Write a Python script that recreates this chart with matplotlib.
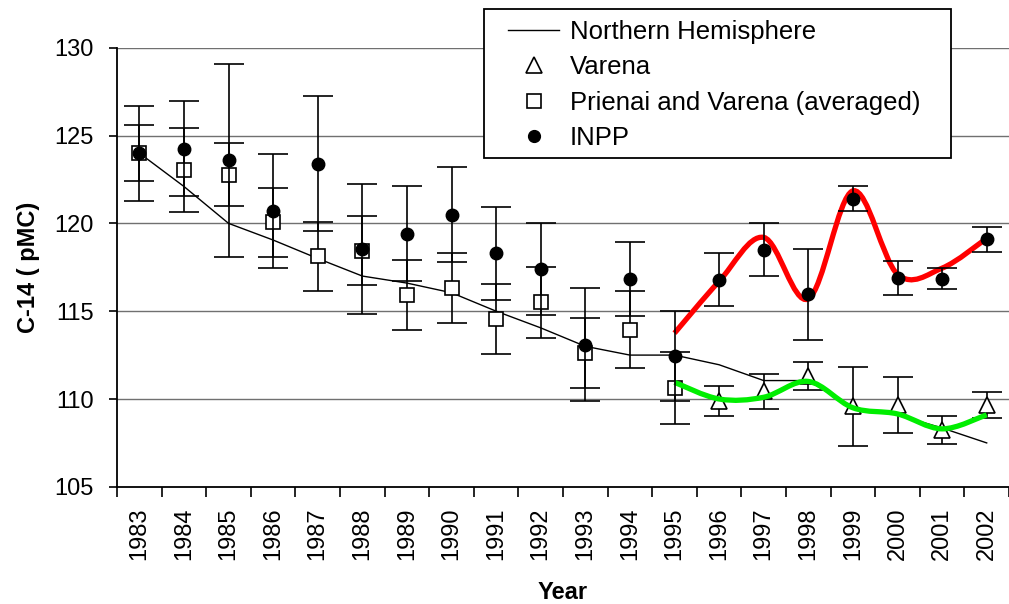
import matplotlib
matplotlib.use("Agg")
import matplotlib.pyplot as plt
import numpy as np
from matplotlib.path import Path
from matplotlib.patches import PathPatch, Rectangle
from matplotlib.lines import Line2D

plt.rcParams["font.family"] = ["Liberation Sans", "DejaVu Sans"]

years = [str(y) for y in range(1983, 2003)]

# Northern Hemisphere reference curve (1983-2002)
nh = [124.0, 122.1, 120.0, 119.05, 118.0, 117.0, 116.6, 116.05, 115.0, 114.05,
      113.0, 112.5, 112.5, 111.95, 111.05, 111.05, 109.5, 109.1, 108.35, 107.5]

# Prienai and Varena averaged (1983-1995)
avg = [124.0, 123.05, 122.77, 120.05, 118.12, 118.45, 115.93, 116.3, 114.57,
       115.5, 112.6, 113.94, 110.65]
avg_err = [1.6, 2.4, 1.8, 1.95, 1.95, 1.95, 2.0, 2.0, 2.0, 2.0, 2.0, 2.2, 2.05]

# INPP (1983-2002)
inpp = [124.0, 124.25, 123.6, 120.7, 123.4, 118.55, 119.4, 120.5, 118.3, 117.4,
        113.1, 116.85, 112.45, 116.8, 118.5, 115.95, 121.4, 116.9, 116.85, 119.1]
inpp_err = [2.7, 2.7, 5.5, 3.25, 3.85, 3.7, 2.7, 2.7, 2.65, 2.6,
            3.2, 2.1, 2.55, 1.5, 1.5, 2.6, 0.72, 0.97, 0.6, 0.71]

# Varena (1996-2002)
varena = [109.9, 110.45, 111.3, 109.6, 109.65, 108.25, 109.65]
varena_err = [0.85, 1.0, 0.8, 2.25, 1.6, 0.8, 0.76]

# smoothed trend curves (1995-2002)
red_trend = [113.75, 116.7, 119.2, 115.7, 121.85, 117.1, 117.45, 119.15]
green_trend = [110.95, 110.0, 110.1, 111.0, 109.5, 109.15, 108.3, 109.1]


def smooth_path(xs, ys):
    # Excel-like smoothed line: cubic bezier with catmull-rom tangents
    pts = np.column_stack([xs, ys]).astype(float)
    verts = [pts[0]]
    codes = [Path.MOVETO]
    n = len(pts)
    for i in range(n - 1):
        p0 = pts[max(i - 1, 0)]
        p1 = pts[i]
        p2 = pts[i + 1]
        p3 = pts[min(i + 2, n - 1)]
        c1 = p1 + (p2 - p0) / 6.0
        c2 = p2 - (p3 - p1) / 6.0
        verts += [c1, c2, p2]
        codes += [Path.CURVE4] * 3
    return Path(verts, codes)


W, H = 1009, 604
fig = plt.figure(figsize=(W / 100, H / 100), dpi=100)
ax = fig.add_axes([0.116, 0.194, 0.884, 0.727])

x_all = np.arange(len(years))
x_avg = x_all[:len(avg)]
x_var = x_all[13:]
x_trend = x_all[12:]

ax.set_xlim(-0.5, len(years) - 0.5)
ax.set_ylim(105, 130)

for v in range(110, 131, 5):
    ax.axhline(v, color="#707070", lw=1.0, zorder=0)

ax.plot(x_all, nh, color="black", lw=1.0, zorder=2)

eb = dict(ecolor="black", elinewidth=1.2, capsize=11, capthick=1.2, ls="none")
ax.errorbar(x_avg, avg, yerr=avg_err, fmt="s", mfc="white", mec="black",
            mew=1.2, ms=10.5, zorder=3, **eb)
ax.errorbar(x_var, varena, yerr=varena_err, fmt="^", mfc="white", mec="black",
            mew=1.2, ms=11, zorder=3, **eb)

ax.add_patch(PathPatch(smooth_path(x_trend, green_trend), fill=False,
                       edgecolor="#00ee00", lw=3.8, capstyle="butt", zorder=4))
ax.add_patch(PathPatch(smooth_path(x_trend, red_trend), fill=False,
                       edgecolor="#ff0000", lw=3.8, capstyle="butt", zorder=4))

ax.errorbar(x_all, inpp, yerr=inpp_err, fmt="o", mfc="black", mec="black",
            ms=9, zorder=5, **eb)

for s in ["top", "right"]:
    ax.spines[s].set_visible(False)
ax.spines["left"].set_linewidth(1.3)
ax.spines["bottom"].set_linewidth(1.3)

ax.set_yticks(range(105, 131, 5))
ax.tick_params(axis="y", direction="out", length=6, width=1.2, pad=11, labelsize=17)
ax.set_xticks(x_all)
ax.set_xticklabels(years, rotation=90)
ax.set_xticks(np.arange(-0.5, len(years), 1.0), minor=True)
ax.tick_params(axis="x", which="major", length=0, pad=15, labelsize=17)
ax.tick_params(axis="x", which="minor", direction="out", length=7, width=1.2)

ax.set_ylabel("C-14 ( pMC)", fontsize=17, fontweight="bold", labelpad=10)
ax.set_xlabel("Year", fontsize=17, fontweight="bold", labelpad=15)

# legend box drawn separately so the left/right padding can differ from top/bottom
fig.patches.append(Rectangle((484 / W, 1 - 158 / H), (951 - 484) / W, (158 - 9) / H,
                             transform=fig.transFigure, facecolor="white",
                             edgecolor="black", lw=1.3, zorder=10))
handles = [
    Line2D([], [], color="black", lw=1.0),
    Line2D([], [], ls="none", marker="^", mfc="white", mec="black", ms=11, mew=1.2),
    Line2D([], [], ls="none", marker="s", mfc="white", mec="black", ms=10, mew=1.2),
    Line2D([], [], ls="none", marker="o", mfc="black", mec="black", ms=8.5),
]
labels = ["Northern Hemisphere", "Varena", "Prienai and Varena (averaged)", "INPP"]
leg = fig.legend(handles, labels, loc="upper left",
                 bbox_to_anchor=(508 / W, 1 - 20 / H),
                 fontsize=18.5, frameon=False, handlelength=2.0, handletextpad=0.4,
                 labelspacing=0.44, borderpad=0, borderaxespad=0)
leg.set_zorder(11)

fig.savefig("out.png", dpi=100)
